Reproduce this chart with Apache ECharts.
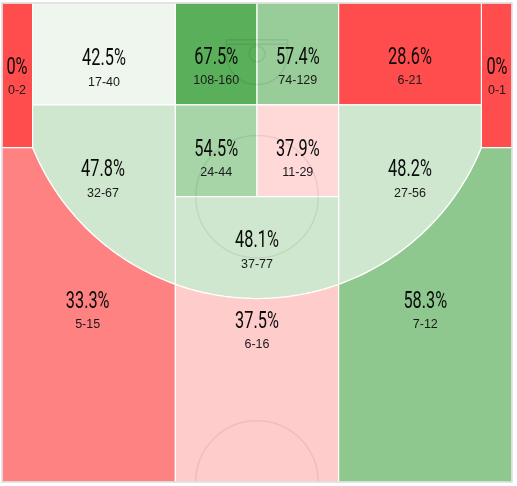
<!DOCTYPE html>
<html><head><meta charset="utf-8">
<script src="https://cdn.jsdelivr.net/npm/echarts@6/dist/echarts.min.js"></script>
<style>html,body{margin:0;padding:0;background:#fff}#chart{width:517px;height:486px}</style>
</head><body><div id="chart"></div>
<script>
// ---- data ----
const zoneNames = ['Left Corner 3','Right Corner 3','Left Baseline Mid','Paint Left','Paint Right','Right Baseline Mid','Left Wing Mid','Lane Left','Lane Right','Right Wing Mid','Top Key Mid','Left Wing 3','Top 3','Right Wing 3'];
const makes    = [0, 0, 17, 108, 74, 6, 32, 24, 11, 27, 37, 5, 6, 7];
const attempts = [2, 1, 40, 160, 129, 21, 67, 44, 29, 56, 77, 15, 16, 12];

// ---- styles ----
const zoneColors = ['#ff4d4d','#ff4d4d','#eef6ee','#5aaf5a','#98cc98','#ff4d4d','#cfe7cf','#a7d5a7','#ffd8d8','#cfe7cf','#cfe7cf','#ff8282','#ffcccc','#8ec88e'];

// ---- court geometry (feet; x from left sideline, y from baseline) ----
const R = 23.75, BX = 25, BY = 5.25;
function arcY(x){ return BY + Math.sqrt(R*R - (x-BX)*(x-BX)); }
const YC = arcY(3);
function arcPts(x0, x1){
  const a0 = Math.acos((x0-BX)/R), a1 = Math.acos((x1-BX)/R), n = 40, pts = [];
  for (let i = 0; i <= n; i++){ const a = a0 + (a1-a0)*i/n; pts.push([BX + R*Math.cos(a), BY + R*Math.sin(a)]); }
  return pts;
}
const zoneShapes = [
  [[0,0],[3,0],[3,YC],[0,YC]],
  [[47,0],[50,0],[50,YC],[47,YC]],
  [[3,0],[17,0],[17,10],[3,10]],
  [[17,0],[25,0],[25,10],[17,10]],
  [[25,0],[33,0],[33,10],[25,10]],
  [[33,0],[47,0],[47,10],[33,10]],
  [[3,10],[17,10]].concat(arcPts(17,3)),
  [[17,10],[25,10],[25,19],[17,19]],
  [[25,10],[33,10],[33,19],[25,19]],
  [[33,10],[47,10]].concat(arcPts(47,33)),
  [[17,19],[33,19]].concat(arcPts(33,17)),
  [[0,YC]].concat(arcPts(3,17), [[17,47],[0,47]]),
  arcPts(17,33).concat([[33,47],[17,47]]),
  arcPts(33,47).concat([[50,YC],[50,47],[33,47]])
];
const labelPos = [[1.47,6.38],[48.53,6.38],[10,5.5],[21,5.4],[29,5.4],[40,5.4],[9.9,16.4],[21,14.4],[29,14.4],[40,16.4],[25,23.4],[8.4,29.3],[25,31.3],[41.5,29.3]];

function pctText(i){ return Number((makes[i]/attempts[i]*100).toFixed(1)) + '%'; }

const zoneData = zoneNames.map((n,i) => ({ name: n, value: [i, makes[i], attempts[i]] }));

const LINE = 'rgba(0,0,0,0.07)';

const chart = echarts.init(document.getElementById('chart'));
chart.setOption({
  animation: false,
  grid: { left: 2, right: 5, top: 3, bottom: 4 },
  xAxis: { type: 'value', min: 0, max: 50, show: false },
  yAxis: { type: 'value', min: 0, max: 47, inverse: true, show: false },
  series: [
    {
      type: 'custom', z: 1, data: zoneData,
      renderItem: function(params, api){
        const i = api.value(0);
        return { type: 'polygon', shape: { points: zoneShapes[i].map(p => api.coord(p)) },
          style: { fill: zoneColors[i], stroke: '#ffffff', lineWidth: 1.2 } };
      }
    },
    {
      type: 'custom', z: 2, data: [[0]], silent: true,
      renderItem: function(params, api){
        const c = p => api.coord(p);
        const k = api.size([1,1]);
        const ft = c([25,19]), hc = c([25,47]), hoop = c([25,5.0]);
        const bb0 = c([22,3.6]), bb1 = c([28,4.05]);
        const tl = c([0,0]), br = c([50,47]);
        const ls = { fill: 'none', stroke: LINE, lineWidth: 1.5 };
        return { type: 'group', children: [
          { type: 'circle', shape: { cx: ft[0], cy: ft[1], r: 6*k[0] }, style: ls },
          { type: 'arc', shape: { cx: hc[0], cy: hc[1], r: 6*k[0], startAngle: Math.PI, endAngle: 2*Math.PI, clockwise: true }, style: ls },
          { type: 'rect', shape: { x: bb0[0], y: bb0[1], width: bb1[0]-bb0[0], height: bb1[1]-bb0[1] }, style: ls },
          { type: 'circle', shape: { cx: hoop[0], cy: hoop[1], r: 0.78*k[0] }, style: ls },
          { type: 'line', shape: { x1: bb0[0], y1: bb1[1], x2: bb0[0], y2: hoop[1] }, style: ls },
          { type: 'line', shape: { x1: bb1[0], y1: bb1[1], x2: bb1[0], y2: hoop[1] }, style: ls },
          { type: 'arc', shape: { cx: hoop[0], cy: hoop[1], r: 3*k[0], startAngle: 0, endAngle: Math.PI, clockwise: true }, style: ls },
          { type: 'rect', shape: { x: tl[0], y: tl[1], width: br[0]-tl[0], height: br[1]-tl[1] }, style: { fill: 'none', stroke: '#dcdcdc', lineWidth: 1.5 } }
        ]};
      }
    },
    {
      type: 'custom', z: 3, data: zoneData, silent: true,
      renderItem: function(params, api){
        const i = api.value(0);
        const p = api.coord(labelPos[i]);
        return { type: 'group', children: [
          { type: 'text', x: p[0], y: p[1], scaleX: 0.68,
            style: { text: pctText(i), fontFamily: 'Roboto', fontWeight: 'normal', fontSize: 24, fill: '#0a0a0a', align: 'center', verticalAlign: 'middle' } },
          { type: 'text', x: p[0], y: p[1] + 23,
            style: { text: api.value(1) + '-' + api.value(2), fontFamily: 'Liberation Sans, Arial, sans-serif', fontSize: 12.5, fill: '#1a1a1a', align: 'center', verticalAlign: 'middle' } }
        ]};
      }
    }
  ]
});
</script>
</body></html>
